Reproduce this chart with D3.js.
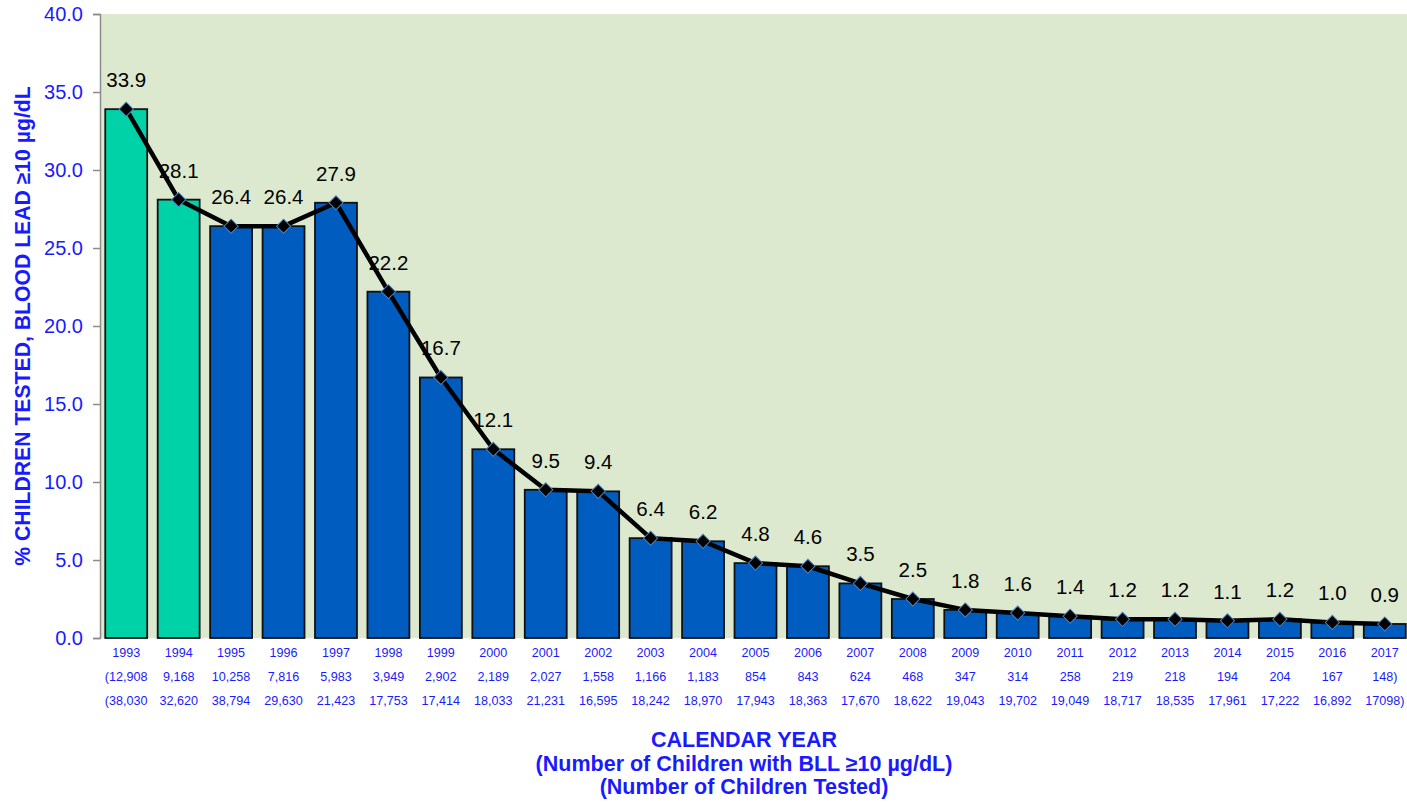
<!DOCTYPE html>
<html>
<head>
<meta charset="utf-8">
<script src="https://cdn.jsdelivr.net/npm/d3@7"></script>
<style>
  html, body { margin: 0; padding: 0; background: #ffffff; }
  svg { display: block; }
</style>
</head>
<body>
<svg id="chart" width="1407" height="805"></svg>
<script>
const years = ["1993","1994","1995","1996","1997","1998","1999","2000","2001","2002","2003","2004","2005","2006","2007","2008","2009","2010","2011","2012","2013","2014","2015","2016","2017"];
const percentElevated = [33.9,28.1,26.4,26.4,27.9,22.2,16.7,12.1,9.5,9.4,6.4,6.2,4.8,4.6,3.5,2.5,1.8,1.6,1.4,1.2,1.2,1.1,1.2,1.0,0.9];
const childrenElevated = ["(12,908","9,168","10,258","7,816","5,983","3,949","2,902","2,189","2,027","1,558","1,166","1,183","854","843","624","468","347","314","258","219","218","194","204","167","148)"];
const childrenTested = ["(38,030","32,620","38,794","29,630","21,423","17,753","17,414","18,033","21,231","16,595","18,242","18,970","17,943","18,363","17,670","18,622","19,043","19,702","19,049","18,717","18,535","17,961","17,222","16,892","17098)"];
const highlightYears = ["1993","1994"];
const yTicks = [0,5,10,15,20,25,30,35,40];
const yAxisTitle = "% CHILDREN TESTED, BLOOD LEAD \u226510 \u00b5g/dL";
const xAxisTitle = ["CALENDAR YEAR","(Number of Children with BLL \u226510 \u00b5g/dL)","(Number of Children Tested)"];

const svg = d3.select("#chart");
const pLeft = 100, pRight = 1411, pTop = 14, pBottom = 638;
const blue = "#1a1aff";
const font = "Liberation Sans, Arial, sans-serif";

const x = d3.scaleBand().domain(years).range([pLeft, pRight]).paddingInner(0.2).paddingOuter(0.1);
const y = d3.scaleLinear().domain([0, 40]).range([pBottom, pTop]);

// plot background
svg.append("rect").attr("x", pLeft).attr("y", pTop).attr("width", pRight - pLeft).attr("height", pBottom - pTop)
  .attr("fill", "#dde9cf");

// y axis
const yAxis = svg.append("g").attr("transform", `translate(${pLeft},0)`)
  .call(d3.axisLeft(y).tickValues(yTicks).tickFormat(d3.format(".1f")).tickSizeOuter(0).tickSize(7).tickPadding(10));
yAxis.select(".domain").attr("stroke", "#8c8c8c").attr("stroke-width", 1.5);
yAxis.selectAll(".tick line").attr("stroke", "#8c8c8c").attr("stroke-width", 1.5);
yAxis.selectAll(".tick text").attr("fill", blue).attr("font-family", font).attr("font-size", 20);

// bars
svg.append("g").selectAll("rect").data(years).join("rect")
  .attr("x", d => x(d))
  .attr("y", (d, i) => y(percentElevated[i]))
  .attr("width", x.bandwidth())
  .attr("height", (d, i) => y(0) - y(percentElevated[i]))
  .attr("fill", d => highlightYears.includes(d) ? "#00d2a8" : "#005cbf")
  .attr("stroke", "#111")
  .attr("stroke-width", 1.8);

// line
const cx = d => x(d) + x.bandwidth() / 2;
svg.append("path")
  .datum(years)
  .attr("d", d3.line().x(d => cx(d)).y((d, i) => y(percentElevated[i])))
  .attr("fill", "none").attr("stroke", "#000").attr("stroke-width", 4.5).attr("stroke-linejoin", "round");

// markers
svg.append("g").selectAll("path").data(years).join("path")
  .attr("transform", (d, i) => `translate(${cx(d)},${y(percentElevated[i])}) rotate(45)`)
  .attr("d", d3.symbol().type(d3.symbolSquare).size(100))
  .attr("fill", "#000").attr("stroke", "#4f81bd").attr("stroke-width", 1);

// value labels
svg.append("g").selectAll("text").data(years).join("text")
  .attr("x", d => cx(d))
  .attr("y", (d, i) => y(percentElevated[i]) - 22)
  .attr("text-anchor", "middle")
  .attr("font-family", font)
  .attr("font-size", 20.5)
  .attr("fill", "#000")
  .text((d, i) => percentElevated[i].toFixed(1));

// category labels
const rows = [years, childrenElevated, childrenTested];
const rowY = [657, 681, 705];
rows.forEach((row, r) => {
  svg.append("g").selectAll("text").data(row).join("text")
    .attr("x", (d, i) => cx(years[i]))
    .attr("y", rowY[r])
    .attr("text-anchor", "middle")
    .attr("font-family", font)
    .attr("font-size", 12.6)
    .attr("fill", blue)
    .text(d => d);
});

// x axis title
xAxisTitle.forEach((t, i) => {
  svg.append("text").attr("x", 744).attr("y", 747 + i * 23.5)
    .attr("text-anchor", "middle")
    .attr("font-family", font)
    .attr("font-weight", "bold").attr("font-size", 21.5).attr("fill", blue)
    .text(t);
});

// y axis title
svg.append("text")
  .attr("transform", `translate(30,326) rotate(-90)`)
  .attr("text-anchor", "middle")
  .attr("font-family", font)
  .attr("font-weight", "bold").attr("font-size", 21.2).attr("fill", blue)
  .text(yAxisTitle);
</script>
</body>
</html>
